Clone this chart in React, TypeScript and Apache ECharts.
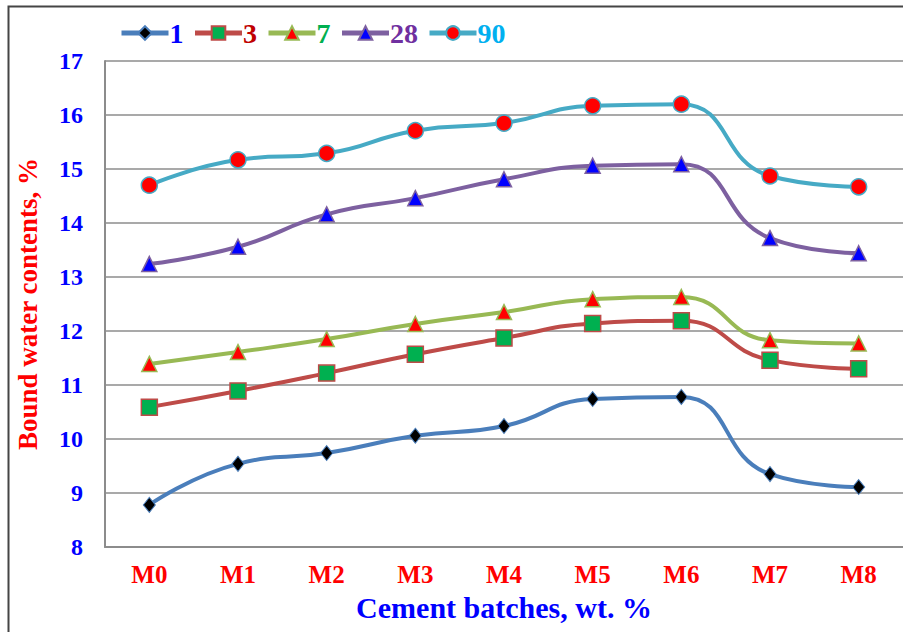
import React, { useEffect, useRef } from "react";
import * as echarts from "echarts";

const categories = ["M0", "M1", "M2", "M3", "M4", "M5", "M6", "M7", "M8"];
const seriesNames = ["1", "3", "7", "28", "90"];
const day1 = [8.78, 9.54, 9.74, 10.06, 10.24, 10.74, 10.78, 9.35, 9.11];
const day3 = [10.59, 10.89, 11.22, 11.57, 11.87, 12.14, 12.19, 11.46, 11.3];
const day7 = [11.39, 11.61, 11.85, 12.13, 12.35, 12.59, 12.63, 11.83, 11.77];
const day28 = [13.24, 13.56, 14.16, 14.46, 14.81, 15.06, 15.09, 13.72, 13.44];
const day90 = [14.7, 15.17, 15.29, 15.71, 15.85, 16.17, 16.2, 14.87, 14.67];

const FONT = "'Liberation Serif', 'Times New Roman', serif";

export default function App() {
  const ref = useRef<HTMLDivElement>(null);

  useEffect(() => {
    if (!ref.current) return;
    const chart = echarts.init(ref.current, null, { renderer: "svg" });

    const lineSeries = (
      name: string,
      data: number[],
      lineColor: string,
      symbol: string,
      symbolSize: number | number[],
      fill: string,
      border: string,
      borderWidth: number
    ) => ({
      name,
      type: "line",
      data,
      smooth: 0.5,
      symbol,
      symbolSize,
      showSymbol: true,
      lineStyle: { color: lineColor, width: 4 },
      itemStyle: { color: fill, borderColor: border, borderWidth },
      z: 3,
    });

    const legendColors = ["#0000FF", "#C00000", "#00B050", "#7030A0", "#00B0F0"];

    chart.setOption({
      animation: false,
      backgroundColor: "#ffffff",
      graphic: [
        {
          type: "rect",
          shape: { x: 8.5, y: 6.5, width: 1000, height: 1000 },
          style: { fill: "none", stroke: "#454545", lineWidth: 2 },
          silent: true,
        },
      ],
      legend: {
        left: 114,
        top: 14,
        itemWidth: 47,
        itemHeight: 17,
        itemGap: 9,
        lineStyle: { width: 5 },
        data: seriesNames.map((n, i) => ({
          name: n,
          textStyle: {
            color: legendColors[i],
            fontFamily: FONT,
            fontWeight: "bold",
            fontSize: 28,
            padding: [0, 0, 0, -4],
          },
        })),
      },
      grid: { left: 105, top: 61, width: 801, height: 486, containLabel: false },
      xAxis: {
        type: "category",
        data: categories,
        boundaryGap: true,
        axisTick: { show: false },
        axisLine: { lineStyle: { color: "#8c8c8c", width: 2 } },
        axisLabel: {
          color: "#FF0000",
          fontFamily: FONT,
          fontWeight: "bold",
          fontSize: 25,
          margin: 15,
        },
        name: "Cement batches, wt. %",
        nameLocation: "middle",
        nameGap: 45,
        nameTextStyle: {
          color: "#0000FF",
          fontFamily: FONT,
          fontWeight: "bold",
          fontSize: 30,
        },
      },
      yAxis: {
        type: "value",
        min: 8,
        max: 17,
        interval: 1,
        axisLine: { show: true, lineStyle: { color: "#8c8c8c", width: 2 } },
        axisTick: { show: false },
        splitLine: { lineStyle: { color: "#8c8c8c", width: 1.5 } },
        axisLabel: {
          color: "#0000FF",
          fontFamily: FONT,
          fontWeight: "bold",
          fontSize: 24,
          margin: 22,
        },
        name: "Bound water contents, %",
        nameLocation: "middle",
        nameGap: 64,
        nameTextStyle: {
          color: "#FF0000",
          fontFamily: FONT,
          fontWeight: "bold",
          fontSize: 27,
        },
      },
      series: [
        lineSeries("1", day1, "#4A7EBB", "diamond", [12, 15], "#000000", "#4A7EBB", 1),
        lineSeries("3", day3, "#BE4B48", "rect", 16, "#00B050", "#BE4B48", 1.5),
        lineSeries("7", day7, "#98B954", "triangle", 15, "#FF0000", "#98B954", 1.5),
        lineSeries("28", day28, "#7D60A0", "triangle", 15, "#0000FF", "#7D60A0", 1.5),
        lineSeries("90", day90, "#46AAC5", "circle", 16, "#FF0000", "#46AAC5", 1.5),
      ],
    });

    return () => chart.dispose();
  }, []);

  return (
    <div
      ref={ref}
      style={{ position: "fixed", left: 0, top: 0, width: 903, height: 632, background: "#fff" }}
    />
  );
}
